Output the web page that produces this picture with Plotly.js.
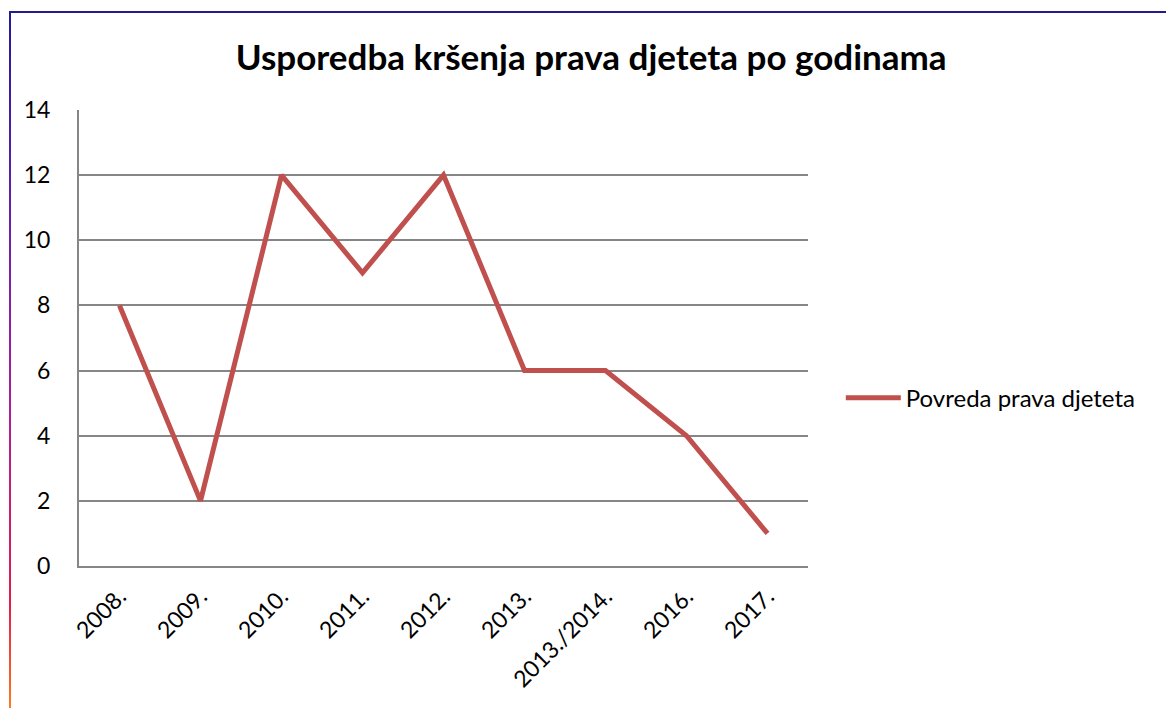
<!DOCTYPE html>
<html>
<head>
<meta charset="utf-8">
<script src="https://cdn.plot.ly/plotly-3.0.1.min.js"></script>
<style>
  html, body { margin: 0; padding: 0; background: #fff; }
  #wrap { position: relative; width: 1166px; height: 708px; overflow: hidden; }
  #chart { position: absolute; left: 0; top: 0; width: 1166px; height: 708px; }
  #topb { position: absolute; left: 9px; top: 11px; width: 1157px; height: 2px; background: #201c8e; pointer-events: none; }
  #leftb { position: absolute; left: 9px; top: 11px; width: 2px; height: 697px; pointer-events: none;
           background: linear-gradient(to bottom, #23199a 0%, #6a1fb0 30%, #b01d9a 58%, #e8194a 85%, #ff7a1e 100%); }
</style>
</head>
<body>
<div id="wrap">
  <div id="chart"></div>
  <div id="topb"></div>
  <div id="leftb"></div>
</div>
<script>
const categories = ["2008.", "2009.", "2010.", "2011.", "2012.", "2013.", "2013./2014.", "2016.", "2017."];
const values = [8, 2, 12, 9, 12, 6, 6, 4, 1];
const seriesName = "Povreda prava djeteta";
const chartTitle = "Usporedba kršenja prava djeteta po godinama";
const yTicks = [0, 2, 4, 6, 8, 10, 12, 14];

const fontFam = "Lato, 'Open Sans', sans-serif";

Plotly.newPlot("chart", [{
  x: categories,
  y: values,
  type: "scatter",
  mode: "lines",
  name: seriesName,
  line: { color: "#c0504d", width: 5 }
}], {
  width: 1166,
  height: 708,
  margin: { l: 79, r: 358, t: 110, b: 142 },
  paper_bgcolor: "#ffffff",
  plot_bgcolor: "#ffffff",
  title: {
    text: "<b>" + chartTitle + "</b>",
    font: { family: fontFam, size: 35, color: "#000" },
    x: 0.507, xanchor: "center",
    y: 0.919, yanchor: "middle"
  },
  showlegend: true,
  legend: {
    x: 1.045, xanchor: "left",
    y: 0.368, yanchor: "middle",
    font: { family: fontFam, size: 24, color: "#000" },
    itemwidth: 55,
    bgcolor: "rgba(0,0,0,0)"
  },
  xaxis: {
    type: "category",
    range: [-0.5, 8.5],
    tickangle: -45,
    tickfont: { family: fontFam, size: 23, color: "#000" },
    showgrid: false,
    showline: true,
    linecolor: "#868686",
    linewidth: 2,
    ticks: "outside",
    ticklen: 6,
    tickcolor: "rgba(0,0,0,0)",
    zeroline: false,
    fixedrange: true
  },
  yaxis: {
    range: [0, 14],
    tickvals: yTicks,
    ticktext: yTicks.map(String),
    tickfont: { family: fontFam, size: 23, color: "#000" },
    showgrid: true,
    gridcolor: "#868686",
    gridwidth: 2,
    showline: true,
    linecolor: "#868686",
    linewidth: 2,
    ticks: "outside",
    ticklen: 22,
    tickcolor: "rgba(0,0,0,0)",
    zeroline: false,
    fixedrange: true
  }
}, { displayModeBar: false, staticPlot: true });
</script>
</body>
</html>
